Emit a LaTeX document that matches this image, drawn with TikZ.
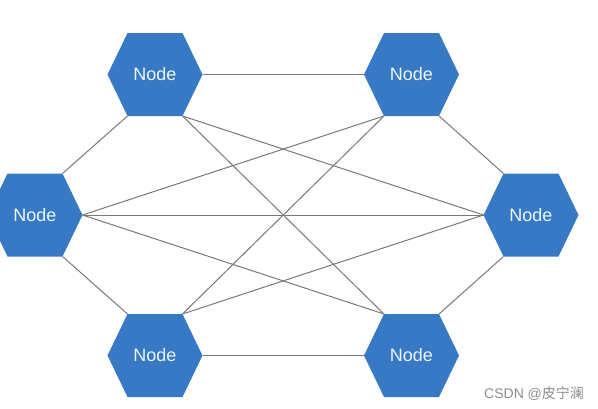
\documentclass[tikz,border=0pt]{standalone}
\usepackage{fontspec}
\setmainfont{Liberation Sans}
\newfontfamily\cjkfont{Noto Sans CJK SC}
\definecolor{hexblue}{RGB}{56,121,197}
\definecolor{hextext}{RGB}{235,246,255}
\definecolor{edgegray}{RGB}{120,120,120}
\definecolor{markgray}{RGB}{140,140,140}
\newcommand{\hexnode}[3]{%
  \fill[hexblue] (#2-47.5,#3) -- (#2-27.5,#3-41.5) -- (#2+27.5,#3-41.5) -- (#2+47.5,#3)
     -- (#2+27.5,#3+41.5) -- (#2-27.5,#3+41.5) -- cycle;
  \node[hexlabel] (#1) at (#2,#3) {Node};
  \coordinate (#1-l)  at (#2-47.5,#3);
  \coordinate (#1-r)  at (#2+47.5,#3);
  \coordinate (#1-tl) at (#2-27.5,#3-41.5);
  \coordinate (#1-tr) at (#2+27.5,#3-41.5);
  \coordinate (#1-bl) at (#2-27.5,#3+41.5);
  \coordinate (#1-br) at (#2+27.5,#3+41.5);
}
\begin{document}
\begin{tikzpicture}[x=1pt,y=-1pt,
  hexlabel/.style={text=hextext,font=\fontsize{18}{21}\selectfont,inner sep=0pt},
  edge/.style={draw=edgegray,line width=1pt},
  wmark/.style={text=markgray,font=\fontsize{14}{17}\selectfont,inner sep=0pt,anchor=west}]
\useasboundingbox (0,0) rectangle (598,408);
\begin{scope}
\clip (0,0) rectangle (598,408);
\hexnode{TL}{155}{74.5}
\hexnode{TR}{411.5}{74.5}
\hexnode{L}{35}{215}
\hexnode{R}{531}{215}
\hexnode{BL}{155}{355.5}
\hexnode{BR}{411.5}{355.5}
\end{scope}
\draw[edge] (TL-r) -- (TR-l);
\draw[edge] (TL-bl) -- (L-tr);
\draw[edge] (TL-br) -- (BR-tl);
\draw[edge] (TL-br) -- (R-l);
\draw[edge] (TR-bl) -- (L-r);
\draw[edge] (TR-bl) -- (BL-tr);
\draw[edge] (TR-br) -- (R-tl);
\draw[edge] (L-r) -- (R-l);
\draw[edge] (L-r) -- (BR-tl);
\draw[edge] (L-br) -- (BL-tl);
\draw[edge] (BL-tr) -- (R-l);
\draw[edge] (BL-r) -- (BR-l);
\draw[edge] (R-bl) -- (BR-tr);
\node[wmark] (wm) at (484,394) {CSDN @{\cjkfont 皮宁澜}};
\end{tikzpicture}
\end{document}
